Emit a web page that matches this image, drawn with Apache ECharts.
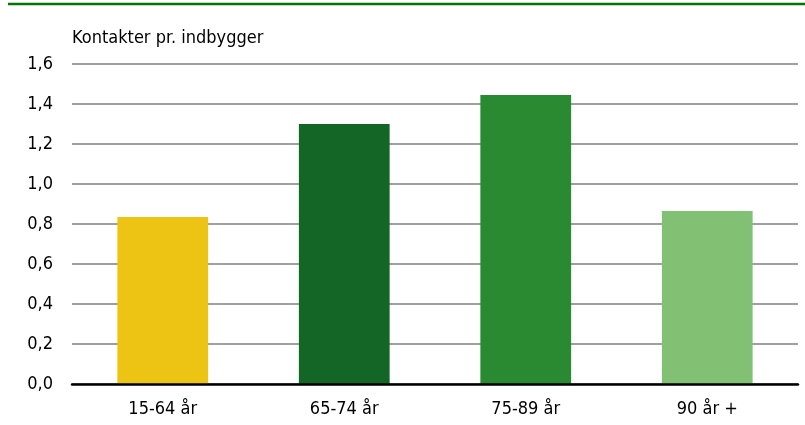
<!DOCTYPE html>
<html><head><meta charset="utf-8">
<script src="https://cdn.jsdelivr.net/npm/echarts@6/dist/echarts.min.js"></script>
<style>html,body{margin:0;padding:0;background:#fff}#c{width:805px;height:425px}</style>
</head><body><div id="c"></div>
<script>
const categories = ['15-64 år', '65-74 år', '75-89 år', '90 år +'];
const values = [0.835, 1.30, 1.445, 0.865];
const colors = ['#EDC413', '#146626', '#298A32', '#82C173'];
const yTitle = 'Kontakter pr. indbygger';
const FONT = '"Liberation Sans Narrow","DejaVu Sans Condensed",sans-serif';
const chart = echarts.init(document.getElementById('c'), null, {renderer: 'canvas'});
chart.setOption({
  animation: false,
  graphic: [
    {type: 'line', shape: {x1: 8, y1: 4, x2: 805, y2: 4}, style: {stroke: '#057405', lineWidth: 2.5}},
    {type: 'text', left: 72, top: 29, style: {text: yTitle, font: '18px ' + FONT, fill: '#000'}}
  ],
  grid: [
    {left: 72, right: 7, top: 64, bottom: 41}
  ],
  xAxis: [
    {type: 'category', data: categories, axisTick: {show: false},
     axisLine: {show: true, lineStyle: {color: '#000', width: 2.5}}, z: 10,
     axisLabel: {color: '#000', fontSize: 18, fontFamily: FONT, margin: 16}}
  ],
  yAxis: [
    {type: 'value', min: 0, max: 1.6, interval: 0.2,
     axisLine: {show: false}, axisTick: {show: false},
     axisLabel: {color: '#000', fontSize: 18, fontFamily: FONT, margin: 19,
       formatter: v => v.toFixed(1).replace('.', ',')},
     splitLine: {lineStyle: {color: '#A0A0A0', width: 2}}}
  ],
  series: [{
    type: 'bar', barWidth: '50%',
    data: values.map((v, i) => ({value: v, itemStyle: {color: colors[i]}}))
  }]
});
</script></body></html>
